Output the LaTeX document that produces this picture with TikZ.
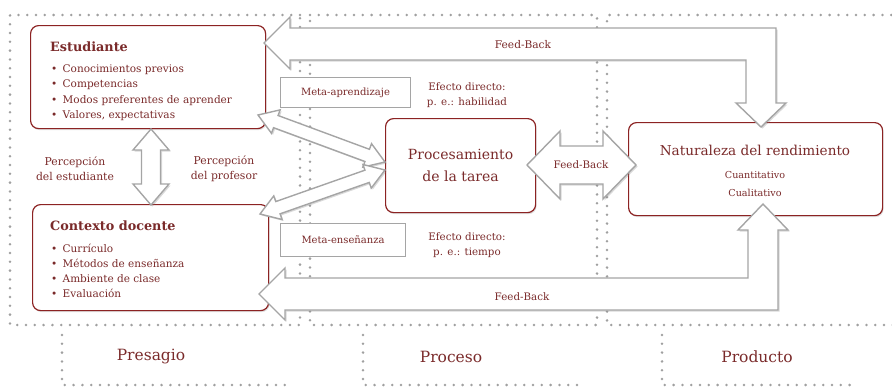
\documentclass[tikz,border=0pt]{standalone}
\usepackage{fontspec}
\setmainfont{DejaVu Serif}
\usetikzlibrary{calc,shadows}

\definecolor{rojo}{RGB}{140,35,35}
\definecolor{rojotexto}{RGB}{122,42,42}
\definecolor{gris}{RGB}{165,165,165}
\definecolor{puntogris}{RGB}{160,160,160}

\tikzset{
  caja/.style={draw=rojo, line width=1.2pt, rounded corners=8pt, fill=white, anchor=north west,
    drop shadow={opacity=0.25, shadow xshift=1pt, shadow yshift=-1.5pt}},
  meta/.style={draw=gris, line width=1pt, fill=white, text=rojotexto, anchor=north west,
    font=\fontsize{10}{12}\selectfont},
  flecha/.style={draw=gris, line width=1.4pt, fill=white,
    drop shadow={opacity=0.3, shadow xshift=1.5pt, shadow yshift=-1.5pt}},
  puntos/.style={draw=puntogris, line width=2.8pt, line cap=round, dash pattern=on 0pt off 8.8pt},
  titulo/.style={text=rojotexto, font=\bfseries\fontsize{12.8}{15}\selectfont, anchor=west, inner sep=0pt},
  punto/.style={text=rojotexto, font=\fontsize{10.5}{12}\selectfont, anchor=base west, inner sep=0pt},
  etiqueta/.style={text=rojotexto, font=\fontsize{10.3}{15}\selectfont, align=center, inner sep=0pt},
  fase/.style={text=rojotexto, font=\fontsize{15.5}{18}\selectfont, inner sep=0pt}
}

% flecha doble de bloque: (a), (b), medio cuerpo, media cabeza, largo cabeza
\newcommand{\flechadoble}[5]{%
  \coordinate (p1) at ($(#1)!#5!(#2)$);
  \coordinate (p2) at ($(#2)!#5!(#1)$);
  \draw[flecha] (#1) -- ($(p1)!#4!90:(#2)$) -- ($(p1)!#3!90:(#2)$)
    -- ($(p2)!#3!-90:(#1)$) -- ($(p2)!#4!-90:(#1)$) -- (#2)
    -- ($(p2)!#4!90:(#1)$) -- ($(p2)!#3!90:(#1)$)
    -- ($(p1)!#3!-90:(#2)$) -- ($(p1)!#4!-90:(#2)$) -- cycle;}
\newcommand{\punto}{\makebox[11.5pt][l]{\textbullet}}

\begin{document}
\begin{tikzpicture}[x=1pt, y=-1pt]
\useasboundingbox (0,0) rectangle (892,388);

% marcos punteados
\draw[puntos] (300,15) -- (10,15) -- (10,325) -- (300,325) -- cycle;
\draw[puntos] (310,15) -- (597,15) -- (597,325) -- (310,325) -- cycle;
\draw[puntos] (900,15) -- (607,15) -- (607,325) -- (900,325);
\draw[puntos] (62,335) -- (62,385) -- (285,385);
\draw[puntos] (363,335) -- (363,385) -- (580,385);
\draw[puntos] (662,335) -- (662,385) -- (855,385);

\node[fase] (presagio) at (151,357) {Presagio};
\node[fase] (proceso) at (451,357) {Proceso};
\node[fase] (producto) at (757,357) {Producto};

% cajas
\node[caja, minimum width=235pt, minimum height=103pt] (est) at (30,25) {};
\node[caja, minimum width=236pt, minimum height=106pt] (ctx) at (32,204) {};
\node[caja, minimum width=150pt, minimum height=94pt] (proc) at (385,118) {};
\node[caja, minimum width=254pt, minimum height=93pt] (nat) at (628,122) {};

\node[titulo] (estT) at (50,47) {Estudiante};
\foreach \t [count=\i] in {Conocimientos previos, Competencias, Modos preferentes de aprender, {Valores, expectativas}}
  \node[punto] (est\i) at (51,{57+15.4*\i}) {\punto\t};

\node[titulo] (ctxT) at (50,226) {Contexto docente};
\foreach \t [count=\i] in {Currículo, Métodos de enseñanza, Ambiente de clase, Evaluación}
  \node[punto] (ctx\i) at (51,{237+15*\i}) {\punto\t};

\node[text=rojotexto, font=\fontsize{14}{22.5}\selectfont, align=center] (procT) at (proc.center) {Procesamiento\\de la tarea};
\node[text=rojotexto, font=\fontsize{13.6}{15}\selectfont] (natT) at (755,150) {Naturaleza del rendimiento};
\node[text=rojotexto, font=\fontsize{9.6}{18}\selectfont, align=center] (natS) at (755,184) {Cuantitativo\\Cualitativo};

\node[meta, minimum width=130pt, minimum height=30pt] (metaA) at (280,77) {Meta-aprendizaje};
\node[meta, minimum width=125pt, minimum height=33pt] (metaE) at (280,223) {Meta-enseñanza};

\node[etiqueta] (efA) at (467,95) {Efecto directo:\\p. e.: habilidad};
\node[etiqueta] (efE) at (467,245) {Efecto directo:\\p. e.: tiempo};
\node[etiqueta, font=\fontsize{10.8}{15}\selectfont] (percE) at (75,169) {Percepción\\del estudiante};
\node[etiqueta, font=\fontsize{10.8}{15}\selectfont] (percP) at (224,169) {Percepción\\del profesor};

% flechas de bloque
\coordinate (estA) at (151,129);
\coordinate (ctxA) at (151,205);
\flechadoble{estA}{ctxA}{9.5pt}{18pt}{21pt}
\coordinate (estD) at (258,115);
\coordinate (procA) at (385,162);
\flechadoble{estD}{procA}{6.5pt}{12.5pt}{19pt}
\coordinate (ctxD) at (260,214);
\coordinate (procB) at (385,170);
\flechadoble{ctxD}{procB}{6.5pt}{12.5pt}{19pt}
\coordinate (procC) at (527,165);
\coordinate (natA) at (636,165);
\flechadoble{procC}{natA}{19pt}{34pt}{33pt}

\draw[flecha] (264,43) -- (290,17) -- (290,28) -- (776,28) -- (776,103) -- (786,103)
  -- (761,127) -- (736,103) -- (746,103) -- (746,60) -- (290,60) -- (290,69) -- cycle;
\draw[flecha] (259,294) -- (285,268) -- (285,278) -- (748,278) -- (748,230) -- (738,230)
  -- (763,204) -- (788,230) -- (778,230) -- (778,310) -- (285,310) -- (285,320) -- cycle;

\node[etiqueta, font=\fontsize{10.6}{12}\selectfont] (fbA) at (523,45) {Feed-Back};
\node[etiqueta, font=\fontsize{10.3}{12}\selectfont] (fbB) at (581,165) {Feed-Back};
\node[etiqueta, font=\fontsize{10.3}{12}\selectfont] (fbC) at (522,297) {Feed-Back};
\end{tikzpicture}
\end{document}
